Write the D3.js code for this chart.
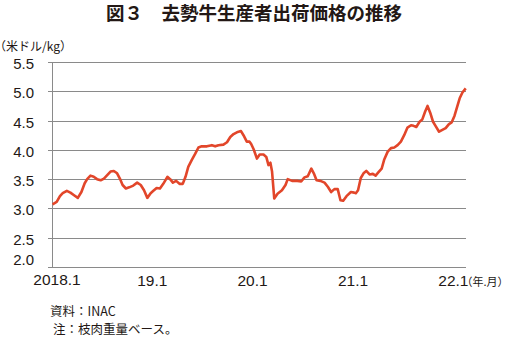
<!DOCTYPE html>
<html>
<head>
<meta charset="utf-8">
<script src="https://cdn.jsdelivr.net/npm/d3@7"></script>
<style>
  body { margin: 0; background: #fff; }
  text { font-family: "Liberation Sans", "Noto Sans CJK JP", sans-serif; fill: #231815; }
  .jp { font-family: "Noto Sans CJK JP", sans-serif; }
  .halt { font-feature-settings: "halt"; }
</style>
</head>
<body>
<div id="canvas"></div>
<script>
// weekly-ish readings of the price (US$/kg, carcass weight)
const dates = [
  "2018-01-03","2018-01-18","2018-01-30","2018-02-09","2018-02-24","2018-03-09","2018-03-21","2018-04-05",
  "2018-04-18","2018-04-30","2018-05-09","2018-05-21","2018-06-02","2018-06-14","2018-06-27","2018-07-09",
  "2018-07-21","2018-08-02","2018-08-14","2018-08-26","2018-09-05","2018-09-15","2018-09-27","2018-10-09",
  "2018-10-24","2018-11-07","2018-11-20","2018-12-02","2018-12-14","2018-12-26",
  "2019-01-05","2019-01-17","2019-01-29","2019-02-10","2019-02-25","2019-03-07","2019-03-17","2019-03-29",
  "2019-04-10","2019-04-22","2019-05-02","2019-05-12","2019-05-25","2019-06-06","2019-06-18","2019-06-30",
  "2019-07-19","2019-08-06","2019-08-18","2019-08-30","2019-09-17","2019-09-30","2019-10-12","2019-10-24",
  "2019-11-05","2019-11-20","2019-11-29","2019-12-11","2019-12-21","2019-12-27",
  "2020-01-05","2020-01-17","2020-01-27","2020-02-10","2020-02-20","2020-02-28","2020-03-06","2020-03-12",
  "2020-03-20","2020-04-01","2020-04-17","2020-04-30","2020-05-08","2020-05-24","2020-06-12","2020-06-26",
  "2020-07-08","2020-07-20","2020-08-02","2020-08-11","2020-08-21","2020-09-04","2020-09-19","2020-10-01",
  "2020-10-13","2020-10-25","2020-11-06","2020-11-16","2020-11-26","2020-12-08","2020-12-24",
  "2021-01-05","2021-01-11","2021-01-19","2021-01-29","2021-02-08","2021-02-18","2021-03-02","2021-03-14",
  "2021-03-24","2021-04-02","2021-04-15","2021-04-24","2021-05-07","2021-05-19","2021-05-31","2021-06-12",
  "2021-06-24","2021-07-06","2021-07-18","2021-07-31","2021-08-09","2021-08-19","2021-08-31","2021-09-10",
  "2021-09-20","2021-09-29","2021-10-09","2021-10-19","2021-10-28","2021-11-10","2021-11-22","2021-12-04",
  "2021-12-16","2021-12-26",
  "2022-01-05","2022-01-15","2022-01-24","2022-02-03","2022-02-15"
];
const prices = [
  3.07,3.11,3.21,3.26,3.30,3.27,3.23,3.18,
  3.28,3.43,3.50,3.56,3.54,3.50,3.48,3.51,
  3.57,3.63,3.64,3.60,3.51,3.40,3.34,3.36,
  3.39,3.44,3.40,3.31,3.18,3.26,
  3.30,3.35,3.34,3.42,3.54,3.50,3.44,3.47,
  3.42,3.42,3.54,3.71,3.83,3.93,4.04,4.06,
  4.06,4.08,4.06,4.08,4.09,4.13,4.22,4.27,
  4.30,4.32,4.25,4.14,4.14,4.10,
  4.01,3.85,3.92,3.92,3.88,3.74,3.78,3.63,
  3.17,3.25,3.31,3.40,3.50,3.47,3.47,3.46,
  3.53,3.55,3.68,3.60,3.48,3.47,3.44,3.37,
  3.28,3.33,3.33,3.14,3.13,3.21,3.28,
  3.27,3.26,3.31,3.52,3.60,3.64,3.58,3.59,
  3.56,3.61,3.68,3.83,3.97,4.03,4.04,4.08,
  4.14,4.25,4.38,4.42,4.41,4.39,4.48,4.52,
  4.65,4.75,4.63,4.48,4.41,4.31,4.34,4.37,
  4.44,4.47,
  4.58,4.74,4.88,4.98,5.05
];
const yTicks = [2.0, 2.5, 3.0, 3.5, 4.0, 4.5, 5.0, 5.5];
const xTickDates = ["2018-01-01","2019-01-01","2020-01-01","2021-01-01","2022-01-01"];
const xTickLabels = ["2018.1","19.1","20.1","21.1","22.1"];

const title = "図３　去勢牛生産者出荷価格の推移";
const yUnit = "（米ドル/kg）";
const xUnit = "（年.月）";
const notes = ["資料：INAC", "注：枝肉重量ベース。"];

const width = 507, height = 339;
const margin = { top: 62, left: 52, bottom: 72, right: 41 };
const iwidth = width - margin.left - margin.right;
const iheight = height - margin.top - margin.bottom;

const parse = d3.timeParse("%Y-%m-%d");
const data = dates.map((d, i) => ({ date: parse(d), value: prices[i] }));

const svg = d3.select("#canvas").append("svg")
  .attr("width", width)
  .attr("height", height);

const g = svg.append("g")
  .attr("transform", `translate(${margin.left},${margin.top})`);

const x = d3.scaleTime()
  .domain([parse("2018-01-01"), parse("2022-02-16")])
  .range([0, iwidth]);

const y = d3.scaleLinear()
  .domain([2, 5.5])
  .range([iheight, 0]);

// horizontal gridlines
g.append("g")
  .selectAll("line")
  .data(yTicks)
  .join("line")
  .attr("x1", -4)
  .attr("x2", iwidth)
  .attr("y1", d => Math.round(y(d)) + 0.5)
  .attr("y2", d => Math.round(y(d)) + 0.5)
  .attr("stroke", "#8a8a8a")
  .attr("stroke-width", 1);

// y axis line
g.append("line")
  .attr("x1", 0.5).attr("x2", 0.5)
  .attr("y1", 0).attr("y2", iheight)
  .attr("stroke", "#8a8a8a");

// y tick labels
g.append("g")
  .selectAll("text")
  .data(yTicks)
  .join("text")
  .attr("x", -18)
  .attr("y", d => d === 2 ? y(d) - 2 : y(d) + 7)
  .attr("text-anchor", "end")
  .style("font-size", "15px")
  .text(d => d.toFixed(1));

// x tick labels
g.append("g")
  .selectAll("text")
  .data(xTickDates)
  .join("text")
  .attr("x", (d, i) => x(parse(d)) + (i === 0 ? 5 : 0))
  .attr("y", (d, i) => iheight + (i === 0 ? 18 : 19))
  .attr("text-anchor", "middle")
  .style("font-size", "15.5px")
  .text((d, i) => xTickLabels[i]);

// price line
const line = d3.line()
  .x(d => x(d.date))
  .y(d => y(d.value));

g.append("path")
  .datum(data)
  .attr("fill", "none")
  .attr("stroke", "#e2462a")
  .attr("stroke-width", 2.6)
  .attr("stroke-linejoin", "round")
  .attr("d", line);

// title and units
svg.append("text")
  .attr("class", "jp")
  .attr("x", 254).attr("y", 20)
  .attr("text-anchor", "middle")
  .style("font-size", "18.5px")
  .style("font-weight", "bold")
  .text(title);

svg.append("text")
  .attr("class", "jp halt")
  .attr("x", 0).attr("y", 51)
  .style("font-size", "12px")
  .text(yUnit);

svg.append("text")
  .attr("class", "jp halt")
  .attr("x", 467).attr("y", 286)
  .style("font-size", "11px")
  .text(xUnit);

// source notes
svg.append("text")
  .attr("class", "jp")
  .attr("x", 50).attr("y", 316)
  .style("font-size", "12.5px")
  .text(notes[0]);

svg.append("text")
  .attr("class", "jp")
  .attr("x", 53).attr("y", 334)
  .style("font-size", "12.5px")
  .text(notes[1]);
</script>
</body>
</html>
